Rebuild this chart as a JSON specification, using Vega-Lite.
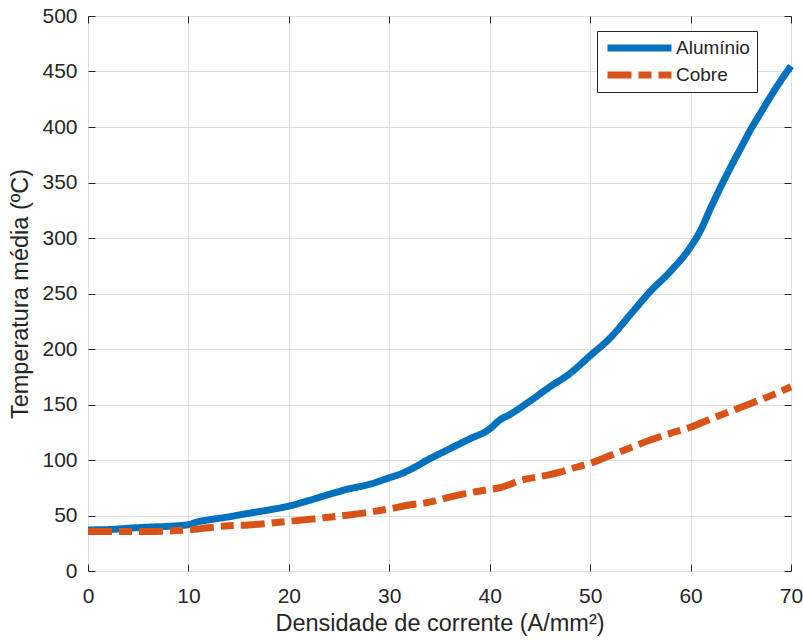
{
  "$schema": "https://vega.github.io/schema/vega-lite/v6.json",
  "width": 703,
  "height": 555,
  "autosize": "none",
  "padding": {"left": 88, "top": 16, "right": 12, "bottom": 69},
  "background": "white",
  "config": {
    "font": "Liberation Sans",
    "view": {"stroke": "#262626", "strokeWidth": 1},
    "axis": {
      "labelFont": "Liberation Sans",
      "titleFont": "Liberation Sans",
      "labelColor": "#262626",
      "titleColor": "#262626",
      "labelFontSize": 21,
      "titleFontSize": 23.5,
      "titleFontWeight": "normal",
      "domainColor": "#262626",
      "tickColor": "#262626",
      "gridColor": "#dfdfdf",
      "gridWidth": 1,
      "tickSize": -7,
      "domain": false
    },
    "legend": {
      "orient": "none", "legendX": 509, "legendY": 15, "title": null,
      "strokeColor": "#262626", "fillColor": "white", "padding": 7,
      "symbolType": "M-1,0H7", "symbolSize": 256, "symbolStrokeWidth": 7,
      "labelFontSize": 19, "labelFont": "Liberation Sans", "labelColor": "#262626",
      "labelOffset": 49, "rowPadding": 7, "clipHeight": 20
    }
  },
  "data": {
    "values": [
      {"x": 0, "y": 37, "s": "Alumínio"},
      {"x": 2, "y": 37.3, "s": "Alumínio"},
      {"x": 4, "y": 38.5, "s": "Alumínio"},
      {"x": 6, "y": 39.5, "s": "Alumínio"},
      {"x": 8, "y": 40.2, "s": "Alumínio"},
      {"x": 9, "y": 40.8, "s": "Alumínio"},
      {"x": 10, "y": 41.8, "s": "Alumínio"},
      {"x": 11, "y": 44.5, "s": "Alumínio"},
      {"x": 12, "y": 46, "s": "Alumínio"},
      {"x": 14, "y": 48.8, "s": "Alumínio"},
      {"x": 16, "y": 52, "s": "Alumínio"},
      {"x": 18, "y": 55, "s": "Alumínio"},
      {"x": 20, "y": 58.5, "s": "Alumínio"},
      {"x": 22, "y": 63.5, "s": "Alumínio"},
      {"x": 24, "y": 69, "s": "Alumínio"},
      {"x": 26, "y": 74, "s": "Alumínio"},
      {"x": 28, "y": 78, "s": "Alumínio"},
      {"x": 30, "y": 84, "s": "Alumínio"},
      {"x": 31, "y": 87, "s": "Alumínio"},
      {"x": 32, "y": 91, "s": "Alumínio"},
      {"x": 34, "y": 101, "s": "Alumínio"},
      {"x": 36, "y": 110, "s": "Alumínio"},
      {"x": 38, "y": 119, "s": "Alumínio"},
      {"x": 40, "y": 128, "s": "Alumínio"},
      {"x": 41, "y": 136, "s": "Alumínio"},
      {"x": 42, "y": 141, "s": "Alumínio"},
      {"x": 44, "y": 153, "s": "Alumínio"},
      {"x": 46, "y": 166, "s": "Alumínio"},
      {"x": 48, "y": 178, "s": "Alumínio"},
      {"x": 50, "y": 194, "s": "Alumínio"},
      {"x": 52, "y": 210, "s": "Alumínio"},
      {"x": 54, "y": 231, "s": "Alumínio"},
      {"x": 56, "y": 252, "s": "Alumínio"},
      {"x": 58, "y": 270, "s": "Alumínio"},
      {"x": 60, "y": 292, "s": "Alumínio"},
      {"x": 61, "y": 307, "s": "Alumínio"},
      {"x": 62, "y": 327, "s": "Alumínio"},
      {"x": 63, "y": 346, "s": "Alumínio"},
      {"x": 64, "y": 364, "s": "Alumínio"},
      {"x": 65, "y": 381, "s": "Alumínio"},
      {"x": 66, "y": 398, "s": "Alumínio"},
      {"x": 67, "y": 413, "s": "Alumínio"},
      {"x": 68, "y": 428, "s": "Alumínio"},
      {"x": 69, "y": 442, "s": "Alumínio"},
      {"x": 70, "y": 455, "s": "Alumínio"},
      {"x": 0, "y": 35.5, "s": "Cobre"},
      {"x": 2, "y": 35.5, "s": "Cobre"},
      {"x": 4, "y": 35.5, "s": "Cobre"},
      {"x": 6, "y": 35.6, "s": "Cobre"},
      {"x": 8, "y": 36, "s": "Cobre"},
      {"x": 10, "y": 37, "s": "Cobre"},
      {"x": 12, "y": 39, "s": "Cobre"},
      {"x": 14, "y": 40.8, "s": "Cobre"},
      {"x": 16, "y": 41.5, "s": "Cobre"},
      {"x": 18, "y": 43, "s": "Cobre"},
      {"x": 20, "y": 44.7, "s": "Cobre"},
      {"x": 22, "y": 46.5, "s": "Cobre"},
      {"x": 24, "y": 48.5, "s": "Cobre"},
      {"x": 26, "y": 50.5, "s": "Cobre"},
      {"x": 28, "y": 53, "s": "Cobre"},
      {"x": 30, "y": 56, "s": "Cobre"},
      {"x": 32, "y": 59.5, "s": "Cobre"},
      {"x": 34, "y": 62, "s": "Cobre"},
      {"x": 36, "y": 66.5, "s": "Cobre"},
      {"x": 38, "y": 70.5, "s": "Cobre"},
      {"x": 40, "y": 73.5, "s": "Cobre"},
      {"x": 41, "y": 75, "s": "Cobre"},
      {"x": 42, "y": 78, "s": "Cobre"},
      {"x": 43, "y": 81.5, "s": "Cobre"},
      {"x": 45, "y": 85, "s": "Cobre"},
      {"x": 47, "y": 89, "s": "Cobre"},
      {"x": 48, "y": 92, "s": "Cobre"},
      {"x": 50, "y": 97, "s": "Cobre"},
      {"x": 52, "y": 104, "s": "Cobre"},
      {"x": 54, "y": 111, "s": "Cobre"},
      {"x": 56, "y": 118, "s": "Cobre"},
      {"x": 58, "y": 124, "s": "Cobre"},
      {"x": 60, "y": 129.5, "s": "Cobre"},
      {"x": 62, "y": 137, "s": "Cobre"},
      {"x": 64, "y": 144, "s": "Cobre"},
      {"x": 66, "y": 151, "s": "Cobre"},
      {"x": 68, "y": 158, "s": "Cobre"},
      {"x": 70, "y": 166, "s": "Cobre"}
    ]
  },
  "layer": [
    {
      "mark": {"type": "line", "strokeWidth": 7, "strokeCap": "butt", "strokeJoin": "round", "interpolate": "monotone"},
      "encoding": {
        "x": {
          "field": "x", "type": "quantitative",
          "scale": {"domain": [0, 70], "nice": false, "zero": false},
          "axis": {"values": [0, 10, 20, 30, 40, 50, 60, 70], "labelPadding": 21, "title": "Densidade de corrente (A/mm²)", "titlePadding": 5, "grid": true, "labelFlush": false}
        },
        "y": {
          "field": "y", "type": "quantitative",
          "scale": {"domain": [0, 500], "nice": false},
          "axis": {"values": [0, 50, 100, 150, 200, 250, 300, 350, 400, 450, 500], "labelPadding": 18, "title": "Temperatura média (ºC)", "titlePadding": 9, "grid": true}
        },
        "color": {
          "field": "s", "type": "nominal",
          "scale": {"domain": ["Alumínio", "Cobre"], "range": ["#0072BD", "#D95319"]}
        },
        "strokeDash": {
          "field": "s", "type": "nominal",
          "scale": {"domain": ["Alumínio", "Cobre"], "range": [[1, 0], [24, 7, 13, 7]]}
        }
      }
    },
    {
      "mark": {"type": "line", "opacity": 0},
      "encoding": {
        "x": {"field": "x", "type": "quantitative", "axis": {"orient": "top", "values": [0, 10, 20, 30, 40, 50, 60, 70], "labels": false, "title": null, "grid": false}},
        "y": {"field": "y", "type": "quantitative", "axis": {"orient": "right", "values": [0, 50, 100, 150, 200, 250, 300, 350, 400, 450, 500], "labels": false, "title": null, "grid": false}}
      }
    }
  ],
  "resolve": {"axis": {"x": "independent", "y": "independent"}}
}
